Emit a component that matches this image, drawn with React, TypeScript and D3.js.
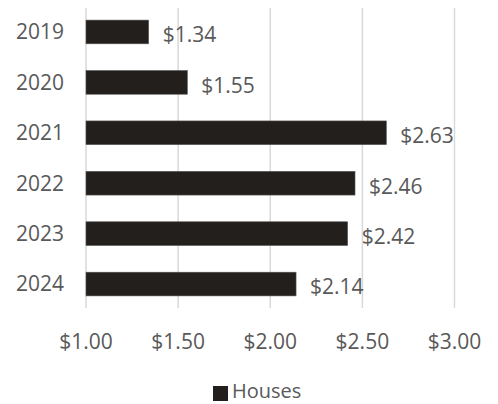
import React from "react";
import * as d3 from "d3";

const years = ["2019", "2020", "2021", "2022", "2023", "2024"];
const values = [1.34, 1.55, 2.63, 2.46, 2.42, 2.14];
const xTicks = [1.0, 1.5, 2.0, 2.5, 3.0];
const seriesName = "Houses";

const W = 498;
const H = 404;
const FONT = "'Open Sans', sans-serif";
const TEXT = "#595959";
const BAR = "#231f1c";

export default function App() {
  const x = d3.scaleLinear().domain([1, 3]).range([86, 454.5]);
  const y = d3.scaleBand().domain(years).range([8, 308]).paddingInner(0.53).paddingOuter(0.24);
  const fmt = (v: number) => "$" + d3.format(".2f")(v);

  return (
    <svg width={W} height={H} style={{ position: "absolute", left: 0, top: 0 }}>
      <rect width={W} height={H} fill="#fff" />
      {xTicks.map((t) => (
        <line key={t} x1={x(t)} x2={x(t)} y1={8} y2={308} stroke="#d9d9d9" strokeWidth={1.5} />
      ))}
      {years.map((yr, i) => (
        <g key={yr}>
          <rect
            x={x(1)}
            y={y(yr)!}
            width={x(values[i]) - x(1)}
            height={y.bandwidth()}
            fill={BAR}
            stroke="#555"
            strokeWidth={0.6}
          />
          <text
            x={x(1) - 22}
            y={y(yr)! + y.bandwidth() / 2}
            dy="0.35em"
            textAnchor="end"
            fontFamily={FONT}
            fontSize={21}
            fill={TEXT}
          >
            {yr}
          </text>
          <text
            x={x(values[i]) + 14}
            y={y(yr)! + y.bandwidth() / 2 + 3}
            dy="0.35em"
            textAnchor="start"
            fontFamily={FONT}
            fontSize={21}
            fill={TEXT}
          >
            {fmt(values[i])}
          </text>
        </g>
      ))}
      {xTicks.map((t) => (
        <text
          key={"l" + t}
          x={x(t)}
          y={342}
          dy="0.35em"
          textAnchor="middle"
          fontFamily={FONT}
          fontSize={21}
          fill={TEXT}
        >
          {fmt(t)}
        </text>
      ))}
      <rect x={213} y={386} width={15} height={15} fill={BAR} />
      <text x={232} y={391} dy="0.35em" fontFamily={FONT} fontSize={20} fill={TEXT}>
        {seriesName}
      </text>
    </svg>
  );
}
